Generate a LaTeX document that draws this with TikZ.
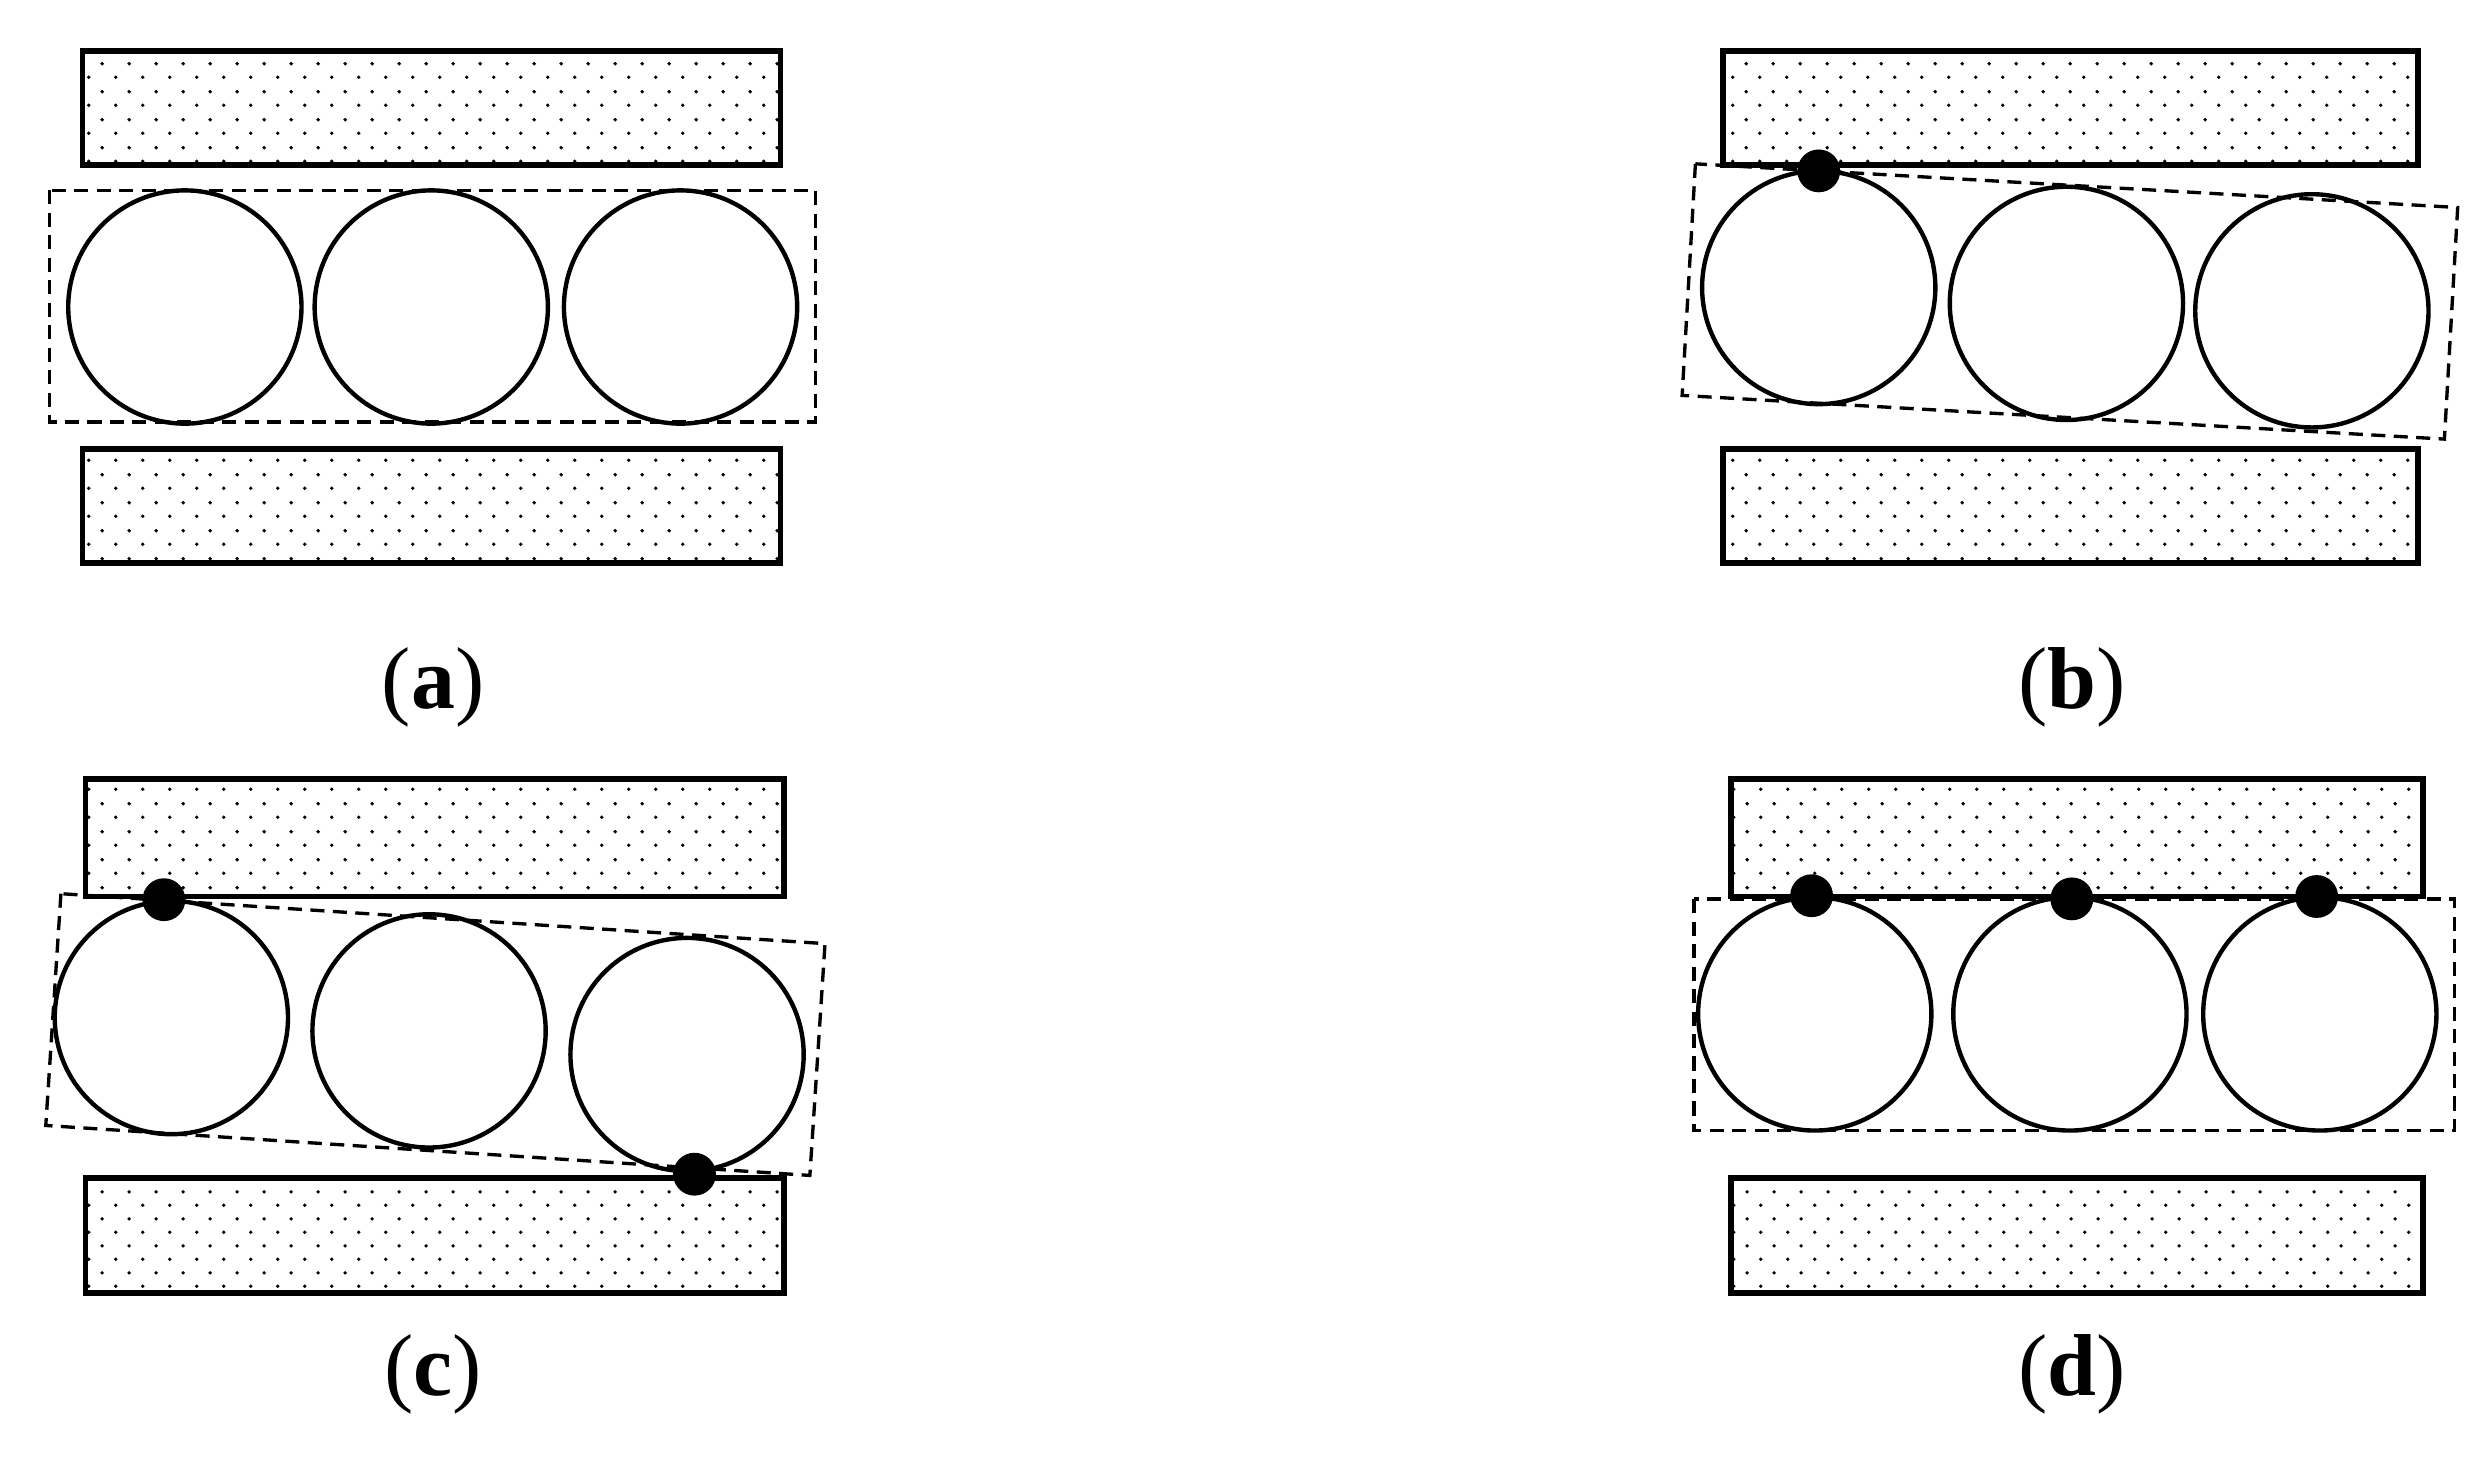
\documentclass[tikz,border=0pt]{standalone}
\usepackage{fontspec}
\setmainfont{Liberation Serif}
\usetikzlibrary{patterns.meta, positioning}

\tikzdeclarepattern{
  name=sanddots,
  type=uncolored,
  bottom left={(0pt,0pt)},
  top right={(7.8pt,7.8pt)},
  tile size={(7.8pt,7.8pt)},
  code={
    \fill (1.95pt,1.95pt) circle (0.55pt);
    \fill (5.85pt,5.85pt) circle (0.55pt);
  }
}

\tikzset{
  plate/.style={draw, line width=1.6pt, pattern=sanddots},
  cage/.style={draw, line width=0.95pt, dash pattern=on 4pt off 2.4pt},
  roller/.style={draw, line width=1.25pt},
  contact/.style={fill=black},
  caption/.style={font=\fontsize{25}{30}\selectfont, inner sep=0pt}
}

\begin{document}
\begin{tikzpicture}[x=0.15867mm, y=-0.15867mm]
        \useasboundingbox (0,0) rectangle (1568,935);

        % (a) free rollers
        \begin{scope}
            \draw[plate] (52,32) rectangle (492,104);
            \draw[plate] (52,283) rectangle (492,355);
            \draw[cage] (31,120) rectangle (514,266);
            \draw[roller] (116.5,193.5) circle [radius=73.5];
            \draw[roller] (271.8,193.5) circle [radius=73.5];
            \draw[roller] (428.9,193.5) circle [radius=73.5];
            \node[caption] (lab-a) at (273,433) {(\textbf{a})};
        \end{scope}

        % (b) one contact on top
        \begin{scope}
            \draw[plate] (1086,32) rectangle (1524,104);
            \draw[plate] (1086,283) rectangle (1524,355);
            \begin{scope}[shift={(1304.5,190)}, rotate=-3.28]
                \draw[cage] (-240.6,-73.1) rectangle (240.6,73.1);
            \end{scope}
            \draw[roller] (1146.2,181.2) circle [radius=73.5];
            \draw[roller] (1302.3,191.2) circle [radius=73.5];
            \draw[roller] (1457,195.9) circle [radius=73.5];
            \fill[contact] (1146.2,107.7) circle [radius=13.5];
            \node[caption] (lab-b) at (1306,433) {(\textbf{b})};
        \end{scope}

        % (c) contacts top and bottom
        \begin{scope}
            \draw[plate] (54,491) rectangle (494,565);
            \draw[plate] (54,742.5) rectangle (494,815);
            \begin{scope}[shift={(274.4,652)}, rotate=-3.74]
                \draw[cage] (-241.3,-73.2) rectangle (241.3,73.2);
            \end{scope}
            \draw[roller] (108,641.3) circle [radius=73.5];
            \draw[roller] (270.4,649.7) circle [radius=73.5];
            \draw[roller] (433,664.6) circle [radius=73.5];
            \fill[contact] (103.3,567) circle [radius=13.5];
            \fill[contact] (437.7,740) circle [radius=13.5];
            \node[caption] (lab-c) at (273,866) {(\textbf{c})};
        \end{scope}

        % (d) all rollers on top
        \begin{scope}
            \draw[plate] (1091,491) rectangle (1527,565);
            \draw[plate] (1091,742.5) rectangle (1527,815);
            \draw[cage] (1067.6,566.6) rectangle (1546.8,712.6);
            \draw[roller] (1143.7,639) circle [radius=73.5];
            \draw[roller] (1304.5,639) circle [radius=73.5];
            \draw[roller] (1462,639) circle [radius=73.5];
            \fill[contact] (1141.7,564.5) circle [radius=13.5];
            \fill[contact] (1305.7,566.5) circle [radius=13.5];
            \fill[contact] (1460,565) circle [radius=13.5];
            \node[caption] (lab-d) at (1306,866) {(\textbf{d})};
        \end{scope}
    \end{tikzpicture}
\end{document}
